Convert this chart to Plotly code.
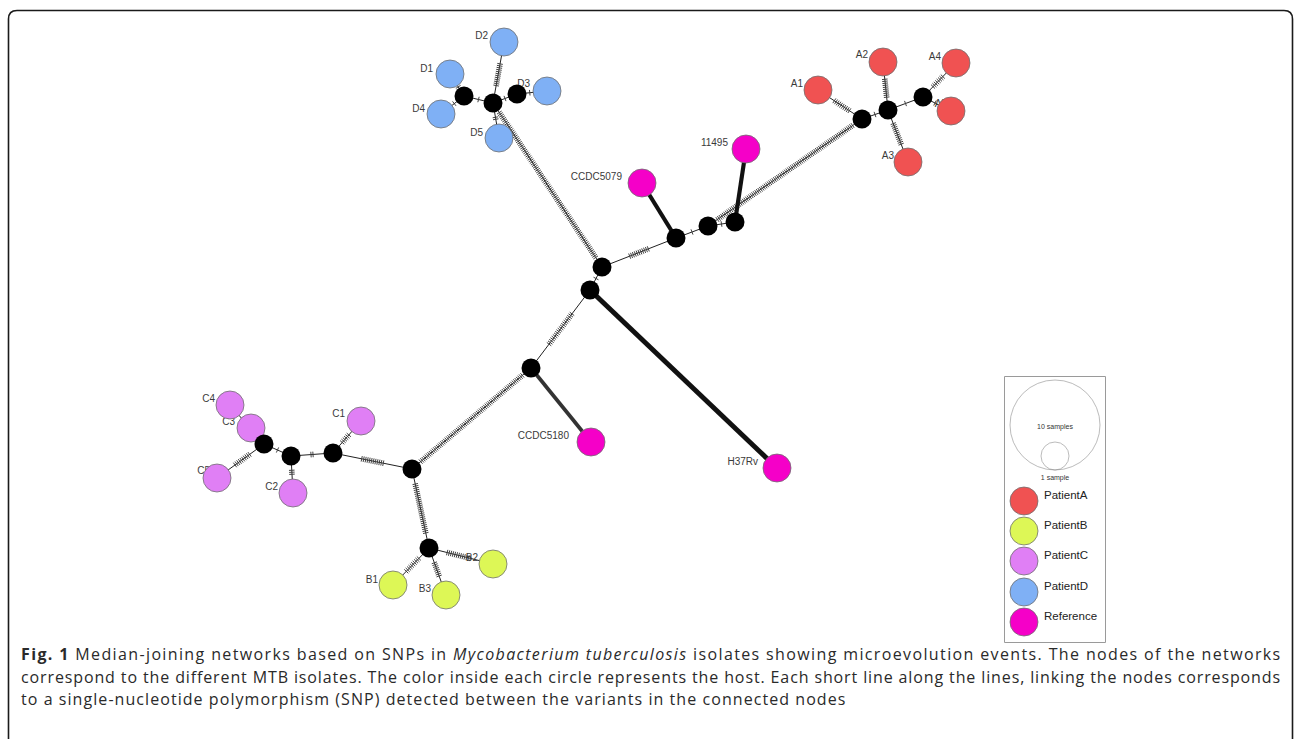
import math
import plotly.graph_objects as go

# ---------------------------------------------------------------------------
# Median-joining network: isolates (coloured by host) and median vectors (mv)
# Layout coordinates are in canvas pixels (x right, y down).
# ---------------------------------------------------------------------------
node_names = [
    "D1", "D2", "D3", "D4", "D5", "mvD1", "mvD2", "mvD3",
    "A1", "A2", "A3", "A4", "A5", "mvA1", "mvA2", "mvA3",
    "11495", "CCDC5079", "mvR1", "mvR2", "mvR3", "mvR4", "mvR5",
    "H37Rv", "mvR6", "CCDC5180",
    "mvC0", "mvC1", "mvC2", "mvC3", "C1", "C2", "C3", "C4", "C5",
    "mvB", "B1", "B2", "B3",
]
node_x = [
    450, 504, 547, 441, 499, 464, 493, 517,
    818, 883, 908, 956, 951, 862, 888, 923,
    746, 642, 735, 708, 676, 602, 590,
    777, 531, 591,
    412, 333, 291, 264, 361, 293, 251, 230, 217,
    429, 393, 493, 446,
]
node_y = [
    74, 42, 91, 114, 138, 96, 103, 94,
    90, 62, 162, 63, 111, 119, 110, 97,
    149, 183, 222, 226, 238, 267, 290,
    468, 368, 442,
    469, 453, 456, 444, 421, 493, 428, 405, 478,
    548, 585, 564, 595,
]
node_group = [
    "PatientD", "PatientD", "PatientD", "PatientD", "PatientD", "mv", "mv", "mv",
    "PatientA", "PatientA", "PatientA", "PatientA", "PatientA", "mv", "mv", "mv",
    "Reference", "Reference", "mv", "mv", "mv", "mv", "mv",
    "Reference", "mv", "Reference",
    "mv", "mv", "mv", "mv", "PatientC", "PatientC", "PatientC", "PatientC", "PatientC",
    "mv", "PatientB", "PatientB", "PatientB",
]

# Edges and number of SNPs separating the connected nodes.
# Very long branches to reference strains are drawn as solid bars.
edge_source = [
    "mvD1", "mvD1", "mvD1", "mvD2", "mvD2", "mvD3", "mvD2", "mvD2",
    "mvA1", "mvA1", "mvA2", "mvA2", "mvA2", "mvA3", "mvA3", "mvA1",
    "mvR2", "mvR1", "mvR2", "mvR3", "mvR3", "mvR4", "mvR5", "mvR5",
    "mvR6", "mvR6", "mvC0", "mvC1", "mvC1", "mvC2", "mvC2", "mvC3",
    "mvC3", "mvC3", "mvC0", "mvB", "mvB", "mvB",
]
edge_target = [
    "D1", "D4", "mvD2", "D2", "mvD3", "D3", "D5", "mvR4",
    "A1", "mvA2", "A2", "A3", "mvA3", "A4", "A5", "mvR2",
    "mvR1", "11495", "mvR3", "CCDC5079", "mvR4", "mvR5", "H37Rv", "mvR6",
    "CCDC5180", "mvC0", "mvC1", "C1", "mvC2", "C2", "mvC3", "C3",
    "C4", "C5", "mvB", "B1", "B2", "B3",
]
edge_snps = [
    1, 1, 1, 12, 1, 1, 2, 92,
    10, 1, 10, 12, 1, 8, 1, 88,
    1, 250, 1, 250, 11, 1, 300, 20,
    220, 72, 12, 6, 2, 3, 1, 1,
    1, 10, 26, 10, 13, 8,
]
SOLID_LIMIT = 200  # branches with at least this many SNPs are drawn solid

host_colors = {
    "PatientA": "#F05252",
    "PatientB": "#DDF756",
    "PatientC": "#E07FF5",
    "PatientD": "#7FB0F5",
    "Reference": "#F500C8",
}
legend_hosts = ["PatientA", "PatientB", "PatientC", "PatientD", "Reference"]

# Label anchor (right end of text, vertical centre) for each isolate
label_names = ["D1", "D2", "D3", "D4", "D5", "A1", "A2", "A3", "A4", "A5",
               "11495", "CCDC5079", "CCDC5180", "H37Rv",
               "C1", "C2", "C3", "C4", "C5", "B1", "B2", "B3"]
label_x = [433, 488, 530, 425, 483, 803, 868, 894, 941, 947,
           728, 622, 569, 758,
           345, 278, 235, 215, 210, 378, 478, 431]
label_y = [69, 36, 84, 109, 133, 84, 55, 156, 57, 104,
           143, 177, 436, 462,
           414, 487, 422, 399, 471, 580, 558, 589]

caption_lines = [
    "<b>Fig. 1</b> Median-joining networks based on SNPs in <i>Mycobacterium tuberculosis</i> "
    "isolates showing microevolution events. The nodes of the networks",
    "correspond to the different MTB isolates. The color inside each circle represents the host. "
    "Each short line along the lines, linking the nodes corresponds",
    "to a single-nucleotide polymorphism (SNP) detected between the variants in the connected nodes",
]
# tracking per caption line (first two lines are justified to the full width)
caption_tracking = [1.37, 0.88, 1.06]

W, H = 1295, 739
ISO_SIZE = 28
MV_SIZE = 19

pos = {n: (x, y, g) for n, x, y, g in zip(node_names, node_x, node_y, node_group)}

fig = go.Figure()

# --- edges --------------------------------------------------------------
thin_x, thin_y = [], []
tick_x, tick_y = [], []
solid_x, solid_y, solid_w = [], [], []
for s, t, n in zip(edge_source, edge_target, edge_snps):
    x0, y0, g0 = pos[s]
    x1, y1, g1 = pos[t]
    if n >= SOLID_LIMIT:
        solid_x.append([x0, x1])
        solid_y.append([y0, y1])
        solid_w.append(n)
        continue
    thin_x += [x0, x1, None]
    thin_y += [y0, y1, None]
    L = math.hypot(x1 - x0, y1 - y0)
    ux, uy = (x1 - x0) / L, (y1 - y0) / L
    px, py = -uy, ux
    r0 = (MV_SIZE if g0 == "mv" else ISO_SIZE) / 2 + 1
    r1 = (MV_SIZE if g1 == "mv" else ISO_SIZE) / 2 + 1
    a, b = r0, L - r1
    spacing = 2.0
    if (n - 1) * spacing > (b - a):
        spacing = (b - a) / max(n, 1)
    mid = (a + b) / 2
    start = mid - (n - 1) * spacing / 2
    half = 2.8
    for k in range(n):
        d = start + k * spacing
        cx, cy = x0 + ux * d, y0 + uy * d
        tick_x += [cx - px * half, cx + px * half, None]
        tick_y += [cy - py * half, cy + py * half, None]

fig.add_trace(go.Scatter(x=thin_x, y=thin_y, mode="lines",
                         line=dict(color="#222222", width=1), hoverinfo="skip"))
fig.add_trace(go.Scatter(x=tick_x, y=tick_y, mode="lines",
                         line=dict(color="#404040", width=1), hoverinfo="skip"))
for xs, ys, n in zip(solid_x, solid_y, solid_w):
    fig.add_trace(go.Scatter(x=xs, y=ys, mode="lines",
                             line=dict(color="#111111" if n >= 250 else "#333333",
                                       width=n / 60.0),
                             hoverinfo="skip"))

# --- labels (under the circles) -----------------------------------------
fig.add_trace(go.Scatter(
    x=label_x, y=label_y, mode="text", text=label_names,
    textposition="middle left",
    textfont=dict(family="Liberation Sans, Arial, sans-serif", size=10, color="#3a3a3a"),
    hoverinfo="skip"))

# --- isolate circles ------------------------------------------------------
for host in legend_hosts:
    xs = [x for x, g in zip(node_x, node_group) if g == host]
    ys = [y for y, g in zip(node_y, node_group) if g == host]
    fig.add_trace(go.Scatter(
        x=xs, y=ys, mode="markers",
        marker=dict(size=ISO_SIZE, color=host_colors[host],
                    line=dict(color="#707070", width=0.8)),
        hoverinfo="skip"))

# --- median vectors --------------------------------------------------------
mv_x = [x for x, g in zip(node_x, node_group) if g == "mv"]
mv_y = [y for y, g in zip(node_y, node_group) if g == "mv"]
fig.add_trace(go.Scatter(x=mv_x, y=mv_y, mode="markers",
                         marker=dict(size=MV_SIZE, color="#000000",
                                     line=dict(color="#000000", width=0)),
                         hoverinfo="skip"))

# --- legend box ------------------------------------------------------------
fig.add_shape(type="rect", x0=1004.5, y0=376.5, x1=1105.5, y1=642.5,
              line=dict(color="#9a9a9a", width=1), fillcolor="rgba(0,0,0,0)")
fig.add_trace(go.Scatter(x=[1055, 1055], y=[425, 456], mode="markers",
                         marker=dict(size=[90, 28], color="rgba(0,0,0,0)",
                                     line=dict(color="#888888", width=0.8)),
                         hoverinfo="skip"))
fig.add_trace(go.Scatter(x=[1055, 1055], y=[427, 478], mode="text",
                         text=["10 samples", "1 sample"],
                         textfont=dict(family="Liberation Sans, Arial, sans-serif",
                                       size=7, color="#333333"),
                         hoverinfo="skip"))
leg_y = [501, 531, 561, 592, 622]
fig.add_trace(go.Scatter(
    x=[1024] * len(legend_hosts), y=leg_y, mode="markers",
    marker=dict(size=28, color=[host_colors[h] for h in legend_hosts],
                line=dict(color="#707070", width=0.8)),
    hoverinfo="skip"))
fig.add_trace(go.Scatter(
    x=[1044] * len(legend_hosts), y=[v - 5 for v in leg_y], mode="text",
    text=legend_hosts, textposition="middle right",
    textfont=dict(family="Liberation Sans, Arial, sans-serif", size=11.5, color="#222222"),
    hoverinfo="skip"))

# --- frame ----------------------------------------------------------------------
fig.add_shape(type="path",
              path="M 8.5,760 L 8.5,19 Q 8.5,10.5 17,10.5 L 1284,10.5 "
                   "Q 1292.5,10.5 1292.5,19 L 1292.5,760",
              line=dict(color="#1a1a1a", width=1.6))

# --- caption --------------------------------------------------------------------
for i, (line, trk) in enumerate(zip(caption_lines, caption_tracking)):
    fig.add_annotation(x=19, y=654 + i * 22.5, xref="x", yref="y",
                       text=f"<span style='letter-spacing:{trk}px'>{line}</span>",
                       showarrow=False, xanchor="left", yanchor="middle",
                       font=dict(family="Open Sans, sans-serif",
                                 size=16, color="#2a2a2a"))

fig.update_layout(
    width=W, height=H,
    margin=dict(l=0, r=0, t=0, b=0),
    paper_bgcolor="white", plot_bgcolor="white",
    showlegend=False,
    xaxis=dict(range=[0, W], visible=False, fixedrange=True),
    yaxis=dict(range=[H, 0], visible=False, fixedrange=True),
)

fig.write_html("out.html", config={"displayModeBar": False})
